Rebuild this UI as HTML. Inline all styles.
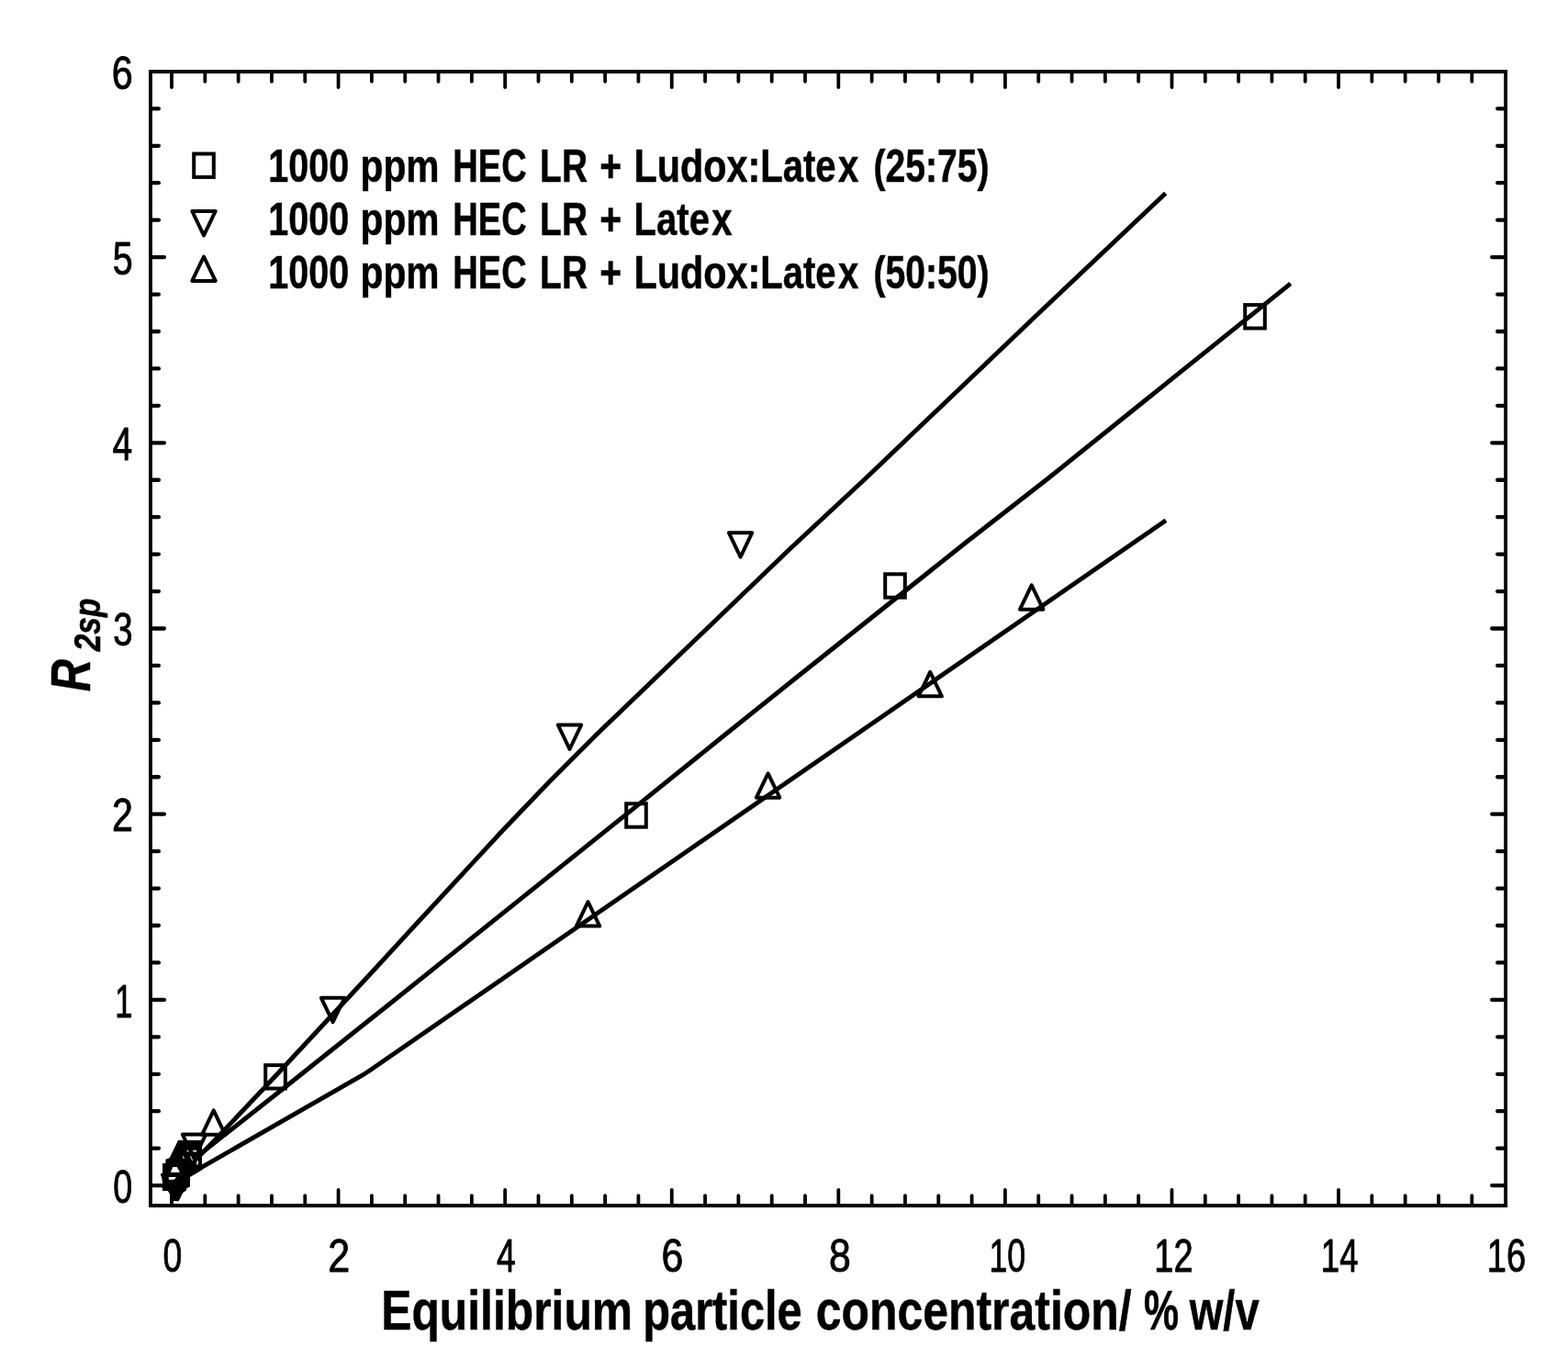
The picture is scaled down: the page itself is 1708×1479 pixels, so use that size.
<!DOCTYPE html>
<html lang="en"><head><meta charset="utf-8"><title>R2sp vs equilibrium particle concentration</title>
<style>html,body{margin:0;padding:0;background:#fff}body{width:1708px;height:1479px;overflow:hidden}svg{display:block}text{font-family:"Liberation Sans",sans-serif;fill:#000;stroke:#000;stroke-width:0.50px;stroke-linejoin:round}.tk{font-size:49.6px;stroke-width:0.9px}.lg{font-size:49.2px;font-weight:bold}.ax{font-size:60.2px;font-weight:bold}.yl{font-weight:bold;font-style:italic}</style></head><body>
<svg width="1708" height="1479" viewBox="0 0 1708 1479">
<rect x="0" y="0" width="1708" height="1479" fill="#fff"/>
<g fill="none" stroke="#000" stroke-linejoin="miter">
<path d="M164.0 77.9H1640.1M164.0 1313.0H1640.1" stroke-width="4.0" stroke-linecap="square"/>
<path d="M164.0 77.9V1313.0M1640.1 77.9V1313.0" stroke-width="3.8" stroke-linecap="square"/>
<path d="M187.00 1311.1v-15.2M187.00 79.8v15.2M223.32 1311.1v-9.0M223.32 79.8v9.0M259.63 1311.1v-9.0M259.63 79.8v9.0M295.95 1311.1v-9.0M295.95 79.8v9.0M332.26 1311.1v-9.0M332.26 79.8v9.0M368.58 1311.1v-15.2M368.58 79.8v15.2M404.90 1311.1v-9.0M404.90 79.8v9.0M441.21 1311.1v-9.0M441.21 79.8v9.0M477.53 1311.1v-9.0M477.53 79.8v9.0M513.84 1311.1v-9.0M513.84 79.8v9.0M550.16 1311.1v-15.2M550.16 79.8v15.2M586.48 1311.1v-9.0M586.48 79.8v9.0M622.79 1311.1v-9.0M622.79 79.8v9.0M659.11 1311.1v-9.0M659.11 79.8v9.0M695.42 1311.1v-9.0M695.42 79.8v9.0M731.74 1311.1v-15.2M731.74 79.8v15.2M768.06 1311.1v-9.0M768.06 79.8v9.0M804.37 1311.1v-9.0M804.37 79.8v9.0M840.69 1311.1v-9.0M840.69 79.8v9.0M877.00 1311.1v-9.0M877.00 79.8v9.0M913.32 1311.1v-15.2M913.32 79.8v15.2M949.64 1311.1v-9.0M949.64 79.8v9.0M985.95 1311.1v-9.0M985.95 79.8v9.0M1022.27 1311.1v-9.0M1022.27 79.8v9.0M1058.58 1311.1v-9.0M1058.58 79.8v9.0M1094.90 1311.1v-15.2M1094.90 79.8v15.2M1131.22 1311.1v-9.0M1131.22 79.8v9.0M1167.53 1311.1v-9.0M1167.53 79.8v9.0M1203.85 1311.1v-9.0M1203.85 79.8v9.0M1240.16 1311.1v-9.0M1240.16 79.8v9.0M1276.48 1311.1v-15.2M1276.48 79.8v15.2M1312.80 1311.1v-9.0M1312.80 79.8v9.0M1349.11 1311.1v-9.0M1349.11 79.8v9.0M1385.43 1311.1v-9.0M1385.43 79.8v9.0M1421.74 1311.1v-9.0M1421.74 79.8v9.0M1458.06 1311.1v-15.2M1458.06 79.8v15.2M1494.38 1311.1v-9.0M1494.38 79.8v9.0M1530.69 1311.1v-9.0M1530.69 79.8v9.0M1567.01 1311.1v-9.0M1567.01 79.8v9.0M1603.32 1311.1v-9.0M1603.32 79.8v9.0" stroke-width="3.8" stroke-linecap="round"/>
<path d="M166.2 1291.10h12.7M1637.9 1291.10h-12.7M166.2 1250.66h6.7M1637.9 1250.66h-6.7M166.2 1210.22h6.7M1637.9 1210.22h-6.7M166.2 1169.78h6.7M1637.9 1169.78h-6.7M166.2 1129.34h6.7M1637.9 1129.34h-6.7M166.2 1088.90h12.7M1637.9 1088.90h-12.7M166.2 1048.46h6.7M1637.9 1048.46h-6.7M166.2 1008.02h6.7M1637.9 1008.02h-6.7M166.2 967.58h6.7M1637.9 967.58h-6.7M166.2 927.14h6.7M1637.9 927.14h-6.7M166.2 886.70h12.7M1637.9 886.70h-12.7M166.2 846.26h6.7M1637.9 846.26h-6.7M166.2 805.82h6.7M1637.9 805.82h-6.7M166.2 765.38h6.7M1637.9 765.38h-6.7M166.2 724.94h6.7M1637.9 724.94h-6.7M166.2 684.50h12.7M1637.9 684.50h-12.7M166.2 644.06h6.7M1637.9 644.06h-6.7M166.2 603.62h6.7M1637.9 603.62h-6.7M166.2 563.18h6.7M1637.9 563.18h-6.7M166.2 522.74h6.7M1637.9 522.74h-6.7M166.2 482.30h12.7M1637.9 482.30h-12.7M166.2 441.86h6.7M1637.9 441.86h-6.7M166.2 401.42h6.7M1637.9 401.42h-6.7M166.2 360.98h6.7M1637.9 360.98h-6.7M166.2 320.54h6.7M1637.9 320.54h-6.7M166.2 280.10h12.7M1637.9 280.10h-12.7M166.2 239.66h6.7M1637.9 239.66h-6.7M166.2 199.22h6.7M1637.9 199.22h-6.7M166.2 158.78h6.7M1637.9 158.78h-6.7M166.2 118.34h6.7M1637.9 118.34h-6.7" stroke-width="4.3" stroke-linecap="round"/>
</g>
<g>
<text class="lg" transform="translate(292.28 197.50) scale(0.8028 1)">1000</text>
<text class="lg" transform="translate(392.50 197.50) scale(0.8284 1)">ppm</text>
<text class="lg" transform="translate(493.37 197.50) scale(0.7730 1)">HEC</text>
<text class="lg" transform="translate(588.12 197.50) scale(0.7909 1)">LR</text>
<text class="lg" transform="translate(653.17 197.50) scale(0.8317 1)">+</text>
<text class="lg" transform="translate(690.47 197.50) scale(0.8406 1)">Ludox:</text>
<text class="lg" transform="translate(828.25 197.50) scale(0.8146 1)">Late<tspan dx="2.77">x</tspan></text>
<text class="lg" transform="translate(951.42 197.50) scale(0.7954 1)">(25:75)</text>
</g>
<g>
<text class="lg" transform="translate(292.28 255.70) scale(0.8028 1)">1000</text>
<text class="lg" transform="translate(392.50 255.70) scale(0.8284 1)">ppm</text>
<text class="lg" transform="translate(493.37 255.70) scale(0.7730 1)">HEC</text>
<text class="lg" transform="translate(588.12 255.70) scale(0.7909 1)">LR</text>
<text class="lg" transform="translate(653.17 255.70) scale(0.8317 1)">+</text>
<text class="lg" transform="translate(690.55 255.70) scale(0.8146 1)">Late<tspan dx="2.77">x</tspan></text>
</g>
<g>
<text class="lg" transform="translate(292.28 313.80) scale(0.8028 1)">1000</text>
<text class="lg" transform="translate(392.50 313.80) scale(0.8284 1)">ppm</text>
<text class="lg" transform="translate(493.37 313.80) scale(0.7730 1)">HEC</text>
<text class="lg" transform="translate(588.12 313.80) scale(0.7909 1)">LR</text>
<text class="lg" transform="translate(653.17 313.80) scale(0.8317 1)">+</text>
<text class="lg" transform="translate(690.47 313.80) scale(0.8406 1)">Ludox:</text>
<text class="lg" transform="translate(828.25 313.80) scale(0.8146 1)">Late<tspan dx="2.77">x</tspan></text>
<text class="lg" transform="translate(951.42 313.80) scale(0.7954 1)">(50:50)</text>
</g>
<g>
<text class="ax" transform="translate(415.24 1447.75) scale(0.8271 1)">Equilibrium</text>
<text class="ax" transform="translate(700.20 1447.75) scale(0.8105 1)">particle</text>
<text class="ax" transform="translate(888.69 1447.75) scale(0.8294 1)">concentration/</text>
<text class="ax" transform="translate(1245.88 1447.75) scale(0.7113 1)">%</text>
<text class="ax" transform="translate(1295.69 1447.75) scale(0.7829 1)">w/v</text>
</g>
<g>
<text class="tk" transform="translate(177.58 1384.70) scale(0.7540 1)">0</text>
<text class="tk" transform="translate(357.23 1384.70) scale(0.8688 1)">2</text>
<text class="tk" transform="translate(540.97 1384.70) scale(0.7507 1)">4</text>
<text class="tk" transform="translate(720.54 1384.70) scale(0.8645 1)">6</text>
<text class="tk" transform="translate(903.11 1384.70) scale(0.8616 1)">8</text>
<text class="tk" transform="translate(1077.42 1384.70) scale(0.7200 1)">10</text>
<text class="tk" transform="translate(1257.37 1384.70) scale(0.7671 1)">12</text>
<text class="tk" transform="translate(1438.86 1384.70) scale(0.7377 1)">14</text>
<text class="tk" transform="translate(1619.77 1384.70) scale(0.7691 1)">16</text>
</g>
<g>
<text class="tk" transform="translate(123.18 1309.80) scale(0.7581 1)">0</text>
</g>
<g>
<text class="tk" transform="translate(125.28 1107.60) scale(0.6986 1)">1</text>
</g>
<g>
<text class="tk" transform="translate(121.92 905.40) scale(0.8301 1)">2</text>
</g>
<g>
<text class="tk" transform="translate(123.35 703.20) scale(0.7742 1)">3</text>
</g>
<g>
<text class="tk" transform="translate(122.44 501.00) scale(0.7859 1)">4</text>
</g>
<g>
<text class="tk" transform="translate(122.82 298.80) scale(0.7950 1)">5</text>
</g>
<g>
<text class="tk" transform="translate(121.81 96.60) scale(0.8344 1)">6</text>
</g>
<text class="yl" transform="translate(98.2 753.3) rotate(-90) scale(0.815 1)" font-size="60.2px">R<tspan font-size="41px" dx="10.6" dy="10.9" style="stroke-width:0.6px">2sp</tspan></text>
<g fill="none" stroke="#000" stroke-width="4.9" stroke-linecap="butt" stroke-linejoin="round">
<polyline points="187.0,1290.5 245.0,1230.1 299.5,1172.5 355.7,1112.0 405.0,1059.0 450.0,1010.0 547.5,904.5 600.0,849.8 649.5,800.3 860.0,598.2 944.0,520.0 1130.0,342.6 1269.6,210.5"/>
<polyline points="187.0,1281.5 245.0,1235.7 311.8,1183.0 390.9,1120.0 422.4,1095.0 480.0,1048.8 693.1,878.2 790.0,800.0 863.0,741.5 1050.0,592.5 1143.0,520.0 1242.5,440.0 1405.8,308.8"/>
<polyline points="187.0,1290.0 391.0,1173.2 397.2,1169.5 404.0,1165.0 555.4,1060.4 750.0,926.0 961.9,779.7 1160.0,642.8 1270.0,566.8"/>
</g>
<polygon points="193.9,1242.2 184.6,1261.3 180.6,1262.5 180.2,1266.9 177.1,1267.2 177.1,1278.3 175.1,1278.3 176.3,1282.8 177.1,1289.0 177.1,1297.0 183.0,1297.0 185.2,1300.2 185.2,1307.9 194.8,1307.9 199.2,1299.0 202.9,1296.6 202.9,1292.9 206.9,1292.1 206.9,1282.0 219.9,1274.2 219.9,1242.2" fill="#000"/>
<g fill="none" stroke="#000" stroke-width="4.0" stroke-linejoin="miter">
<rect x="289.2" y="1160.1" width="21.6" height="25.4"/>
<rect x="682.2" y="875.3" width="21.6" height="25.4"/>
<rect x="964.2" y="625.3" width="21.6" height="25.4"/>
<rect x="1356.2" y="332.1" width="21.6" height="25.4"/>
<rect x="196.2" y="1243.8" width="21.6" height="25.4"/>
<rect x="179.2" y="1269.3" width="21.6" height="25.4"/>
<rect x="183.2" y="1265.3" width="21.6" height="25.4"/>
</g>
<g fill="none" stroke="#000" stroke-width="4.0" stroke-linejoin="round">
<path d="M362.60 1113.20L375.30 1086.80L349.90 1086.80Z"/>
<path d="M620.50 815.90L633.20 789.50L607.80 789.50Z"/>
<path d="M806.60 606.60L819.30 580.20L793.90 580.20Z"/>
<path d="M211.50 1261.90L224.20 1235.50L198.80 1235.50Z"/>
<path d="M189.80 1306.00L202.50 1279.60L177.10 1279.60Z"/>
<path d="M192.50 1306.20L205.20 1279.80L179.80 1279.80Z"/>
<path d="M232.70 1209.40L245.40 1235.80L220.00 1235.80Z"/>
<path d="M640.50 982.20L653.20 1008.60L627.80 1008.60Z"/>
<path d="M836.60 842.30L849.30 868.70L823.90 868.70Z"/>
<path d="M1013.20 731.90L1025.90 758.30L1000.50 758.30Z"/>
<path d="M1123.70 637.30L1136.40 663.70L1111.00 663.70Z"/>
<path d="M190.50 1265.80L203.20 1292.20L177.80 1292.20Z"/>
</g>
<g fill="#fff">
<polygon points="188.3,1271.0 192.7,1271.0 196.0,1276.7 185.8,1276.7"/>
<polygon points="183.8,1282.0 192.3,1282.0 189.5,1284.8 183.8,1284.8"/>
<polygon points="210.2,1252.7 214.2,1252.7 214.2,1254.4 210.2,1254.4"/>
<polygon points="203.7,1252.7 205.3,1252.7 205.3,1254.4 203.7,1254.4"/>
<polygon points="198.8,1259.2 199.8,1259.2 200.8,1262.0 199.8,1262.0"/>
<polygon points="206.9,1259.2 208.0,1259.2 210.2,1264.1 209.2,1264.1"/>
<polygon points="214.8,1264.1 215.9,1264.1 215.9,1268.2 213.8,1268.2"/>
</g>
<g fill="none" stroke="#000" stroke-width="4.0" stroke-linejoin="round">
<rect x="211.2" y="167.5" width="21.6" height="25.4" stroke-linejoin="miter"/>
<path d="M222.00 256.40L234.70 230.00L209.30 230.00Z"/>
<path d="M222.00 279.50L234.70 305.90L209.30 305.90Z"/>
</g>
</svg></body></html>
